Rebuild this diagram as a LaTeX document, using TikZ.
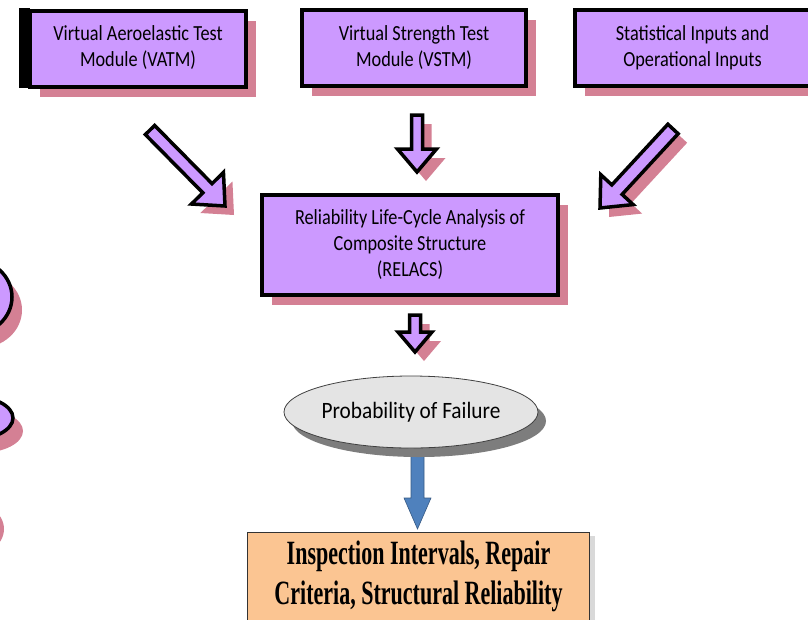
\documentclass[tikz,border=0pt]{standalone}
\usepackage{fontspec}
\setmainfont{Carlito}
\newfontfamily\outserif{Liberation Serif}
\usetikzlibrary{shapes.geometric,shadows,calc}
\definecolor{boxpurple}{RGB}{204,153,255}
\definecolor{shadowpink}{RGB}{212,128,148}
\definecolor{ovalgrey}{RGB}{228,228,228}
\definecolor{ovalshadow}{RGB}{125,125,125}
\definecolor{outorange}{RGB}{251,197,146}
\definecolor{arrowblue}{RGB}{79,129,189}
% #1 tail, #2 tip, #3 shaft half width, #4 head half width, #5 head length, #6 style
\newcommand{\blockarrow}[6]{%
  \coordinate (bah) at ($(#2)!#5!(#1)$);
  \path[#6] ($(#1)!#3!90:(#2)$) -- ($(bah)!#3!90:(#2)$) -- ($(bah)!#4!90:(#2)$)
    -- (#2) -- ($(bah)!#4!-90:(#2)$) -- ($(bah)!#3!-90:(#2)$) -- ($(#1)!#3!-90:(#2)$) -- cycle;}
\newcommand{\stretchtext}[2][1.18]{\scalebox{1}[#1]{\begin{tabular}{@{}c@{}}#2\end{tabular}}}
\begin{document}
\begin{tikzpicture}[x=1pt,y=-1pt,
  inbox/.style={rectangle, draw=black, line width=4pt, fill=boxpurple, inner sep=0pt,
    font=\fontsize{18.25}{22}\selectfont,
    drop shadow={shadow xshift=10pt, shadow yshift=-10pt, fill=shadowpink, opacity=1}},
  oval/.style={ellipse, draw=black!75, line width=0.8pt, fill=ovalgrey, inner sep=0pt,
    font=\fontsize{21.3}{25}\selectfont,
    drop shadow={shadow xshift=8pt, shadow yshift=-9pt, fill=ovalshadow, opacity=1}},
  outbox/.style={rectangle, draw=black!80, line width=0.8pt, fill=outorange, inner sep=0pt,
    drop shadow={shadow xshift=5pt, shadow yshift=-4pt, fill=black!15, opacity=1}},
  purplearrow/.style={fill=boxpurple, draw=black, line width=3.5pt, line join=miter},
  arrowshadow/.style={fill=shadowpink},
  sideoval/.style={fill=boxpurple, draw=black, line width=3.5pt},
  sideshadow/.style={fill=shadowpink}]
\useasboundingbox (0,0) rectangle (808,619);
\clip (0,0) rectangle (808,619);

% partial ovals at the left edge
\fill[sideshadow] (-20,310) ellipse [x radius=42, y radius=38];
\path[sideoval] (-30,297) ellipse [x radius=42, y radius=38];
\fill[sideshadow] (-20,431) ellipse [x radius=43, y radius=22];
\path[sideoval] (-30,418) ellipse [x radius=43, y radius=22];
\fill[sideshadow] (-38,529) ellipse [x radius=42, y radius=30];
\path[sideoval] (-48,516) ellipse [x radius=42, y radius=30];

% boxes
\node[inbox, minimum width=216pt, minimum height=76pt] (vatm) at (138,48.5)
  {\stretchtext{Virtual Aeroelastic Test\\Module (VATM)}};
\node[inbox, minimum width=224pt, minimum height=76pt] (vstm) at (414,48)
  {\stretchtext{Virtual Strength Test\\Module (VSTM)}};
\node[inbox, minimum width=235pt, minimum height=76pt] (stat) at (692.5,48)
  {\stretchtext{Statistical Inputs and\\Operational Inputs}};
\node[inbox, minimum width=296pt, minimum height=100pt] (relacs) at (410,245)
  {\stretchtext{Reliability Life-Cycle Analysis of\\Composite Structure\\(RELACS)}};

% black bar at left, merged with the first box's border
\fill[black] (19,8) rectangle (30,88);

% arrow end points
\coordinate (a1t) at (150,130);
\coordinate (a1h) at (225,206);
\coordinate (a2t) at (417,115);
\coordinate (a2h) at (417,172);
\coordinate (a3t) at (673,129);
\coordinate (a3h) at (600,208);
\coordinate (a4t) at (415,315);
\coordinate (a4h) at (415,352);
\coordinate (a5t) at (417.5,440);
\coordinate (a5h) at (417.5,529);

% purple block arrows with shadows
\begin{scope}[transform canvas={xshift=9pt,yshift=-9pt}]
  \blockarrow{a1t}{a1h}{6.5pt}{22.5pt}{25pt}{arrowshadow}
  \blockarrow{a2t}{a2h}{5.5pt}{19.5pt}{23pt}{arrowshadow}
  \blockarrow{a3t}{a3h}{7pt}{22pt}{25pt}{arrowshadow}
  \blockarrow{a4t}{a4h}{5.5pt}{17pt}{20pt}{arrowshadow}
\end{scope}
\blockarrow{a1t}{a1h}{6.5pt}{22.5pt}{25pt}{purplearrow}
\blockarrow{a2t}{a2h}{5.5pt}{19.5pt}{23pt}{purplearrow}
\blockarrow{a3t}{a3h}{7pt}{22pt}{25pt}{purplearrow}
\blockarrow{a4t}{a4h}{5.5pt}{17pt}{20pt}{purplearrow}

% blue arrow
\blockarrow{a5t}{a5h}{6.5pt}{13.5pt}{31pt}{fill=arrowblue, draw=arrowblue!70!black, line width=0.6pt}

% probability of failure
\node[oval, minimum width=254pt, minimum height=72pt] (pof) at (411,412)
  {\scalebox{1}[1.1]{Probability of Failure}};

% outcome box
\node[outbox, minimum width=342pt, minimum height=89pt] (out) at (418.5,576.5)
  {\resizebox{288pt}{\height}{\outserif\bfseries\fontsize{34}{40}\selectfont
   \begin{tabular}{@{}c@{}}Inspection Intervals, Repair\\Criteria, Structural Reliability\end{tabular}}};
\end{tikzpicture}
\end{document}
